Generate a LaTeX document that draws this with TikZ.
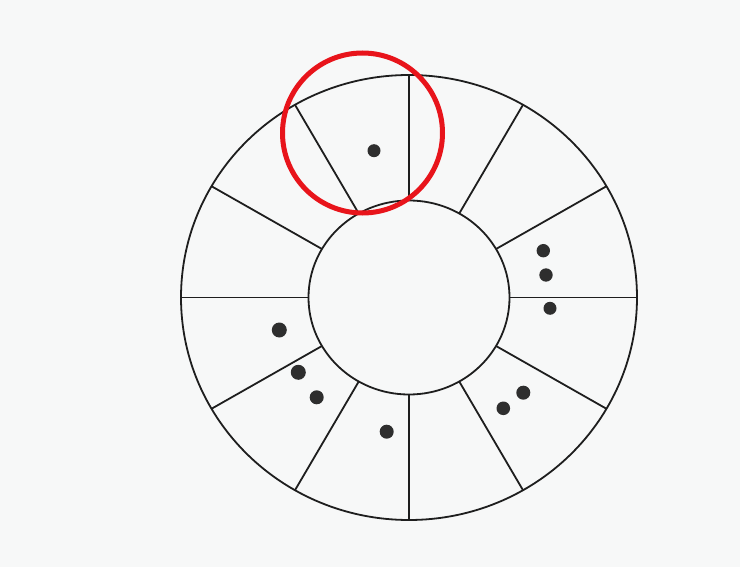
\documentclass[tikz,border=0pt]{standalone}
\usetikzlibrary{calc}
\definecolor{paper}{HTML}{F7F8F8}
\definecolor{ink}{HTML}{1E1E1E}
\definecolor{dotc}{HTML}{2E2E2E}
\definecolor{mark}{HTML}{E8141B}
\tikzset{
  ring/.style={draw=ink, line width=1.8pt},
  spoke/.style={draw=ink, line width=1.8pt},
  seed/.style={fill=dotc},
  hilite/.style={draw=mark, line width=5pt}
}
\begin{document}
\begin{tikzpicture}[x=1pt,y=-1pt]
\fill[paper] (0,0) rectangle (740,567);
\useasboundingbox (0,0) rectangle (740,567);
\coordinate (c) at (409,297.5);
% rings
\draw[ring] (c) ellipse [x radius=228, y radius=222.5];
\draw[ring] (c) ellipse [x radius=100.5, y radius=97];
% spokes (12 sectors)
\foreach \a in {0,30,...,330}{
  \draw[spoke] ($(c)+({100.5*cos(\a)},{-97*sin(\a)})$) -- ($(c)+({228*cos(\a)},{-222.5*sin(\a)})$);
}
% dots
\foreach \p/\r in {{(374,150.7)}/6.5,
  {(543.3,250.7)}/6.7,{(546,275)}/6.7,{(550,308.3)}/6.5,
  {(279.3,330)}/7.5,{(298.3,372.3)}/7.5,{(316.7,397.3)}/7,
  {(386.7,431.7)}/7,
  {(523.3,392.7)}/7,{(503.3,408.3)}/6.8}{
  \fill[seed] \p circle (\r);
}
% highlight circle
\draw[hilite] (362.5,133) circle (80);
\end{tikzpicture}
\end{document}
